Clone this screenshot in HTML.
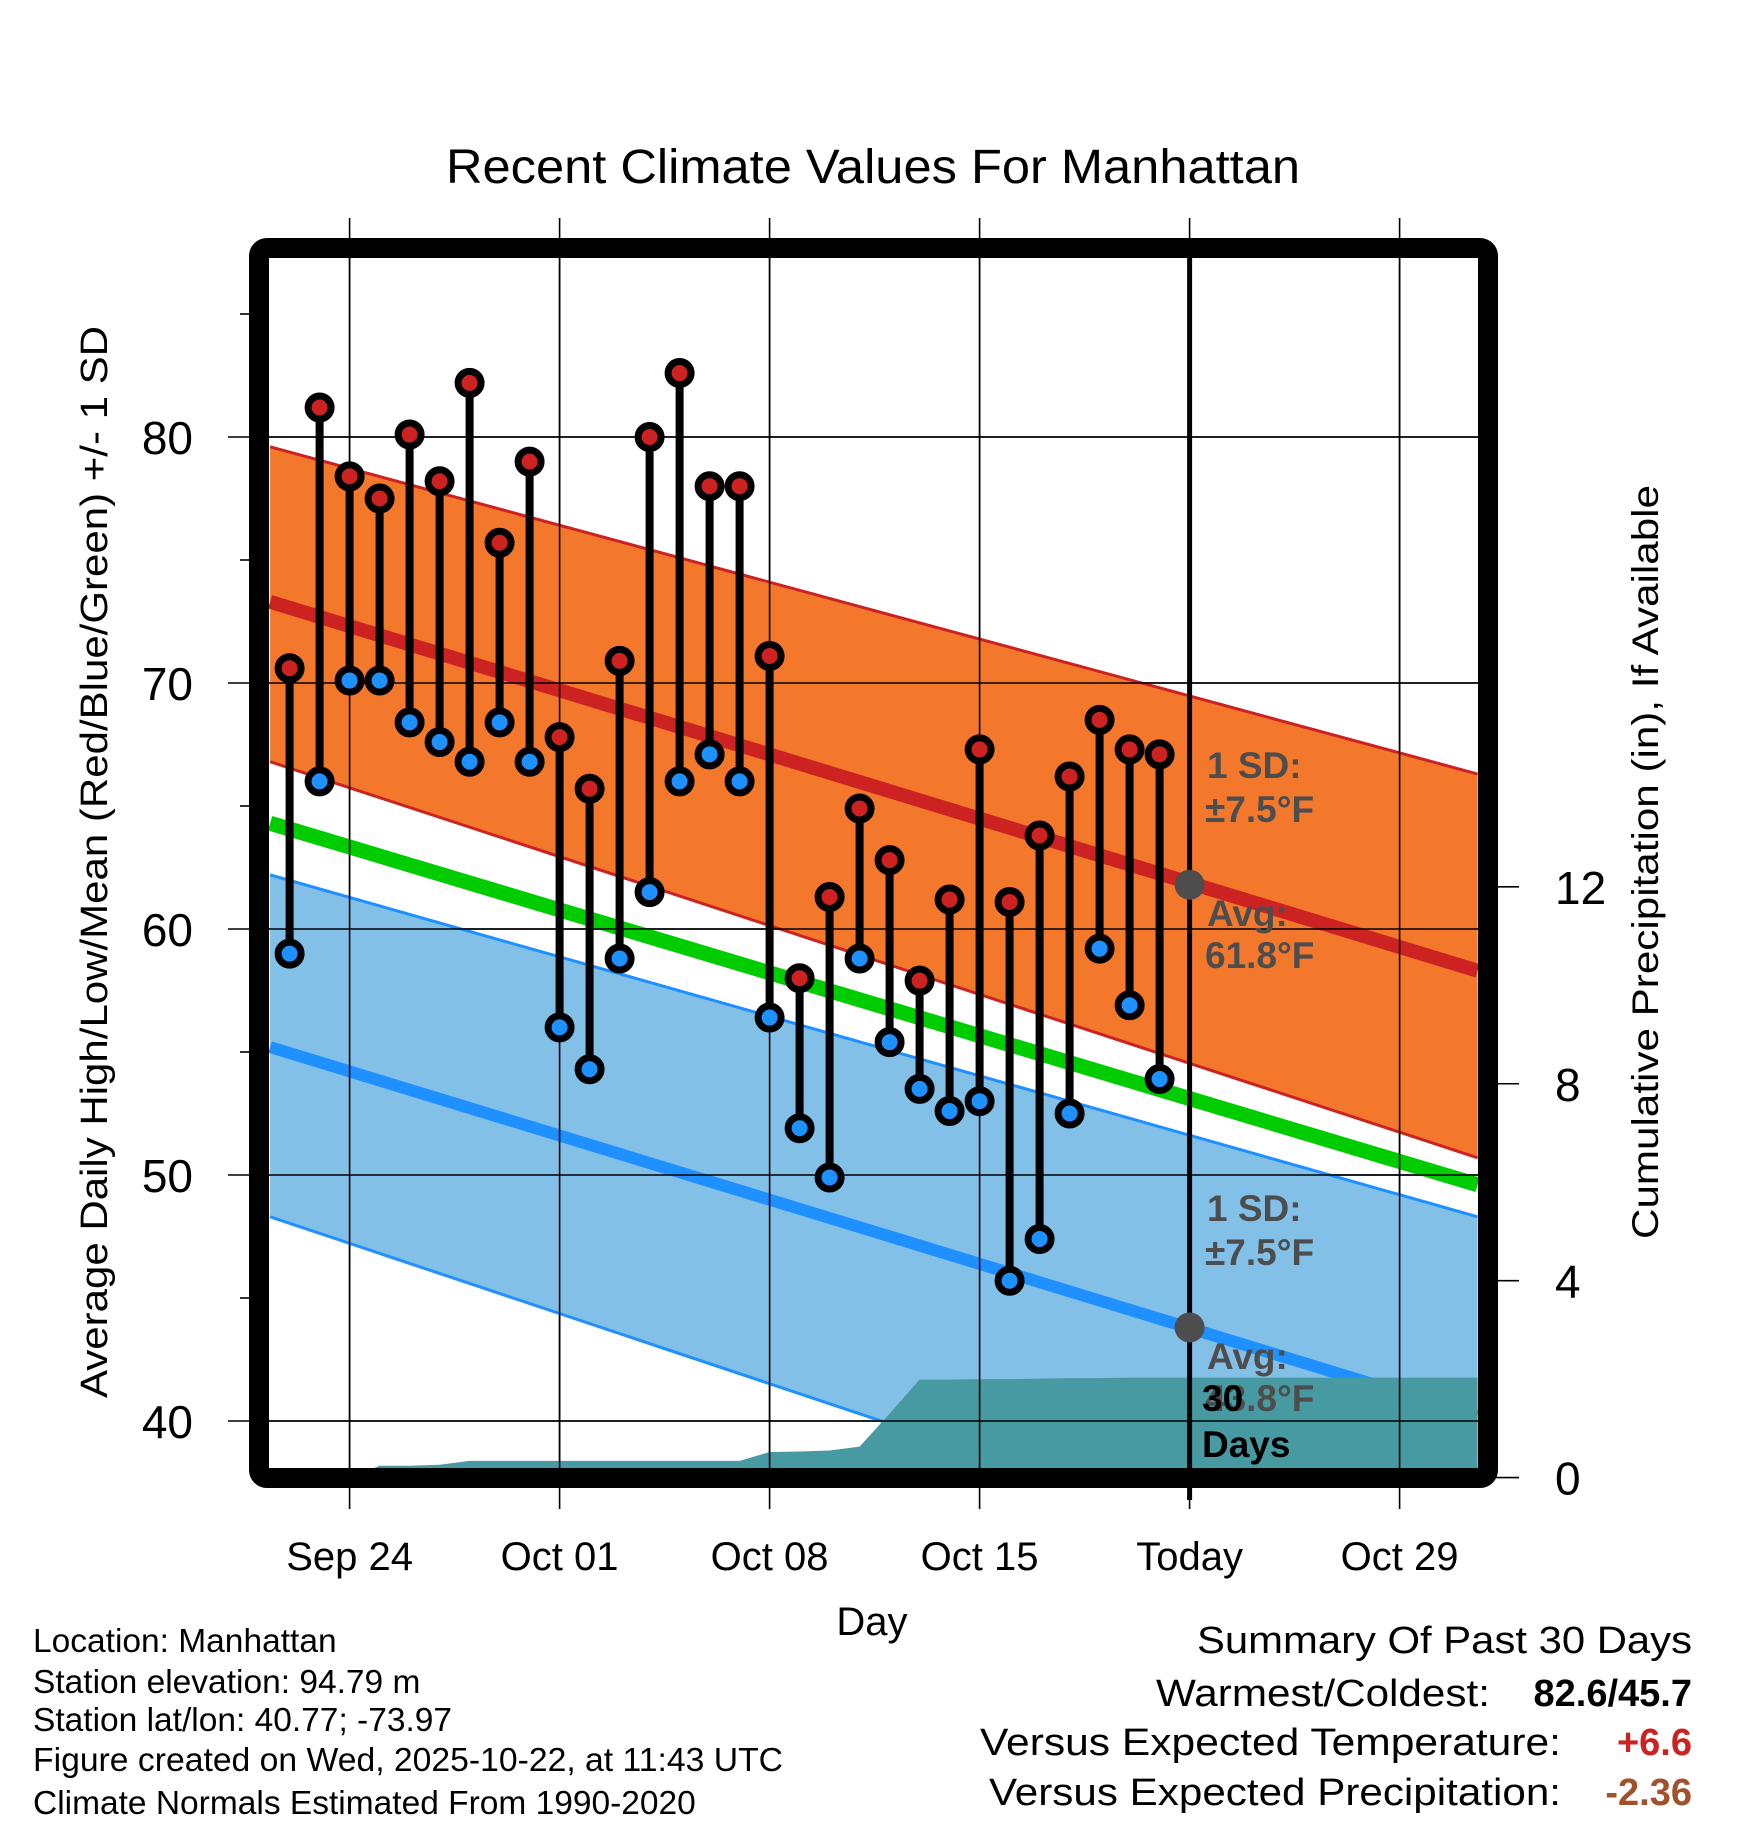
<!DOCTYPE html>
<html><head><meta charset="utf-8"><style>html,body{margin:0;padding:0;background:#fff}svg{display:block}text{font-family:"Liberation Sans",sans-serif}</style></head>
<body>
<svg id="chart" width="1748" height="1828" viewBox="0 0 1748 1828" xmlns="http://www.w3.org/2000/svg">
<defs><clipPath id="plotclip"><rect x="269" y="258" width="1210" height="1210"/></clipPath></defs>
<text x="873" y="183" font-size="48" text-anchor="middle" textLength="854" lengthAdjust="spacingAndGlyphs">Recent Climate Values For Manhattan</text>
<g id="gridlayer"></g>
<g id="plotlayer" clip-path="url(#plotclip)"></g>
<g id="gridover" clip-path="url(#plotclip)"></g>
<g id="marklayer"></g>
<rect x="259" y="248" width="1229" height="1230" rx="8" fill="none" stroke="#000" stroke-width="20"/>
<g id="axislayer"></g>
<g font-weight="bold" fill="#4d4d4d" font-size="37">
<text x="1207" y="778">1 SD:</text><text x="1205" y="822">±7.5°F</text>
<text x="1207" y="926">Avg:</text><text x="1205" y="968">61.8°F</text></g>
<g font-weight="bold" fill="#4d4d4d" font-size="37">
<text x="1207" y="1221">1 SD:</text><text x="1205" y="1265">±7.5°F</text>
<text x="1207" y="1369">Avg:</text><text x="1205" y="1411">43.8°F</text></g>
<g font-weight="bold" fill="#000" font-size="37">
<text x="1202" y="1411">30</text><text x="1202" y="1457">Days</text></g>
<text x="872" y="1635" font-size="40" text-anchor="middle">Day</text>
<text transform="translate(107,862) rotate(-90)" font-size="38" text-anchor="middle" textLength="1072" lengthAdjust="spacingAndGlyphs">Average Daily High/Low/Mean (Red/Blue/Green) +/- 1 SD</text>
<text transform="translate(1658,862) rotate(-90)" font-size="37" text-anchor="middle" textLength="754" lengthAdjust="spacingAndGlyphs">Cumulative Precipitation (in), If Available</text>
<g font-size="33.5">
<text x="33" y="1652">Location: Manhattan</text>
<text x="33" y="1693">Station elevation: 94.79 m</text>
<text x="33" y="1731">Station lat/lon: 40.77; -73.97</text>
<text x="33" y="1771" textLength="750" lengthAdjust="spacingAndGlyphs">Figure created on Wed, 2025-10-22, at 11:43 UTC</text>
<text x="33" y="1814">Climate Normals Estimated From 1990-2020</text></g>
<g font-size="38" text-anchor="end">
<text x="1692" y="1653" textLength="495" lengthAdjust="spacingAndGlyphs">Summary Of Past 30 Days</text>
<text x="1490" y="1706" textLength="334" lengthAdjust="spacingAndGlyphs">Warmest/Coldest:</text>
<text x="1692" y="1706" font-weight="bold">82.6/45.7</text>
<text x="1561" y="1755" textLength="581" lengthAdjust="spacingAndGlyphs">Versus Expected Temperature:</text>
<text x="1692" y="1755" font-weight="bold" fill="#cc2222">+6.6</text>
<text x="1561" y="1805" textLength="572" lengthAdjust="spacingAndGlyphs">Versus Expected Precipitation:</text>
<text x="1692" y="1805" font-weight="bold" fill="#a0522d">-2.36</text></g>
</svg>
<script>
// day index 0 = Sep 24
const obsDays = [-2,-1,0,1,2,3,4,5,6,7,8,9,10,11,12,13,14,15,16,17,18,19,20,21,22,23,24,25,26,27];
const highs = [70.6,81.2,78.4,77.5,80.1,78.2,82.2,75.7,79.0,67.8,65.7,70.9,80.0,82.6,78.0,78.0,71.1,58.0,61.3,64.9,62.8,57.9,61.2,67.3,61.1,63.8,66.2,68.5,67.3,67.1];
const lows = [59.0,66.0,70.1,70.1,68.4,67.6,66.8,68.4,66.8,56.0,54.3,58.8,61.5,66.0,67.1,66.0,56.4,51.9,49.9,58.8,55.4,53.5,52.6,53.0,45.7,47.4,52.5,59.2,56.9,53.9];
const precipCum = [0,0,0,0.24,0.24,0.26,0.34,0.34,0.34,0.34,0.34,0.34,0.34,0.34,0.34,0.34,0.52,0.53,0.55,0.63,1.3,1.99,1.99,2.0,2.0,2.01,2.02,2.02,2.03,2.03];
const normalDays = [-2.65,37.6];
const meanHigh = [73.3,58.3];
const highUpper = [79.6,66.3];
const highLower = [66.8,50.7];
const meanAvg = [64.3,49.6];
const meanLow = [55.2,40.2];
const lowUpper = [62.2,48.3];
const lowLower = [48.3,31.9];
const tempTicks = [40,50,60,70,80];
const minorTicks = [45,55,65,75,85];
const precipTicks = [0,4,8,12];
const xTickDays = [0,7,14,21,28,35];
const xTickLabels = ["Sep 24","Oct 01","Oct 08","Oct 15","Today","Oct 29"];
const todayDay = 28;
const todayHigh = 61.8, todayLow = 43.8;

const X = d => 349.6 + 30*d;
const Y = v => 437 + (80 - v)*24.6;
const P = p => 1477.6 - 49.23*p;
const NS = "http://www.w3.org/2000/svg";
function mk(parent, tag, attrs){const e=document.createElementNS(NS,tag);for(const k in attrs)e.setAttribute(k,attrs[k]);parent.appendChild(e);return e;}
const grid=document.getElementById('gridlayer'), plot=document.getElementById('plotlayer'), over=document.getElementById('gridover'), marks=document.getElementById('marklayer'), axis=document.getElementById('axislayer');

function band(up, lo, fill, name){
  const pts=[[X(normalDays[0]),Y(up[0])],[X(normalDays[1]),Y(up[1])],[X(normalDays[1]),Y(lo[1])],[X(normalDays[0]),Y(lo[0])]];
  const e=mk(plot,'polygon',{points:pts.map(p=>p.join(',')).join(' '),fill:fill});
  
  
}
function nline(arr, color, w, name){
  const e=mk(plot,'line',{x1:X(normalDays[0]),y1:Y(arr[0]),x2:X(normalDays[1]),y2:Y(arr[1]),stroke:color,'stroke-width':w});
  
  
}
band(highUpper, highLower, '#f4782c', 'high-sd-band');
band(lowUpper, lowLower, '#82c0e8', 'low-sd-band');
nline(highUpper,'#cc2222',3,'high-upper-line');
nline(highLower,'#cc2222',3,'high-lower-line');
nline(lowUpper,'#1e90ff',3,'low-upper-line');
nline(lowLower,'#1e90ff',3,'low-lower-line');
nline(meanHigh,'#cc2222',14,'mean-high-line');
nline(meanAvg,'#00cc00',15,'mean-avg-line');
nline(meanLow,'#1e90ff',12,'mean-low-line');

// precipitation area
let pp=[[X(obsDays[0]),P(0)]];
obsDays.forEach((d,i)=>pp.push([X(d),P(precipCum[i])]));
pp.push([X(normalDays[1]),P(precipCum[precipCum.length-1])]);
pp.push([X(normalDays[1]),P(0)]);
const pa=mk(plot,'polygon',{points:pp.map(p=>p.join(',')).join(' '),fill:'#4799a2'});



tempTicks.forEach(v=>{
  const g=mk(grid,'line',{x1:228,y1:Y(v),x2:1478,y2:Y(v),stroke:'#000','stroke-width':1.6});
  
  
  const o=mk(over,'line',{x1:228,y1:Y(v),x2:1478,y2:Y(v),stroke:'#000','stroke-width':1.6});
  
  
  const t=mk(axis,'text',{x:193,y:Y(v)+17,'font-size':46,'text-anchor':'end'});
  t.textContent=v;
  
  
});
minorTicks.forEach(v=>{
  const m=mk(axis,'line',{x1:240,y1:Y(v),x2:252,y2:Y(v),stroke:'#000','stroke-width':1.6});
  
  
});
xTickDays.forEach((d,i)=>{
  const g=mk(grid,'line',{x1:X(d),y1:218,x2:X(d),y2:1509,stroke:'#000','stroke-width':1.6});
  
  
  const o=mk(over,'line',{x1:X(d),y1:218,x2:X(d),y2:1509,stroke:'#000','stroke-width':1.6});
  
  
  const t=mk(axis,'text',{x:X(d),y:1570,'font-size':40,'text-anchor':'middle'});
  t.textContent=xTickLabels[i];
  
  
});
precipTicks.forEach(p=>{
  const m=mk(axis,'line',{x1:1488,y1:P(p),x2:1519,y2:P(p),stroke:'#000','stroke-width':1.6});
  
  
  const t=mk(axis,'text',{x:1555,y:P(p)+17,'font-size':46});
  t.textContent=p;
  
  
});

const tl=mk(marks,'line',{x1:X(todayDay),y1:250,x2:X(todayDay),y2:1500,stroke:'#000','stroke-width':5});


const d1=mk(marks,'circle',{cx:X(todayDay),cy:Y(todayHigh),r:15,fill:'#4d4d4d'});


const d2=mk(marks,'circle',{cx:X(todayDay),cy:Y(todayLow),r:15,fill:'#4d4d4d'});



obsDays.forEach((d,i)=>{
  const s=mk(marks,'line',{x1:X(d),y1:Y(highs[i]),x2:X(d),y2:Y(lows[i]),stroke:'#000','stroke-width':8});
  
  
});
obsDays.forEach((d,i)=>{
  const h=mk(marks,'circle',{cx:X(d),cy:Y(highs[i]),r:11.5,fill:'#cc2222',stroke:'#000','stroke-width':7});
  
  
  const l=mk(marks,'circle',{cx:X(d),cy:Y(lows[i]),r:11.5,fill:'#1e90ff',stroke:'#000','stroke-width':7});
  
  
});
</script>
</body></html>
